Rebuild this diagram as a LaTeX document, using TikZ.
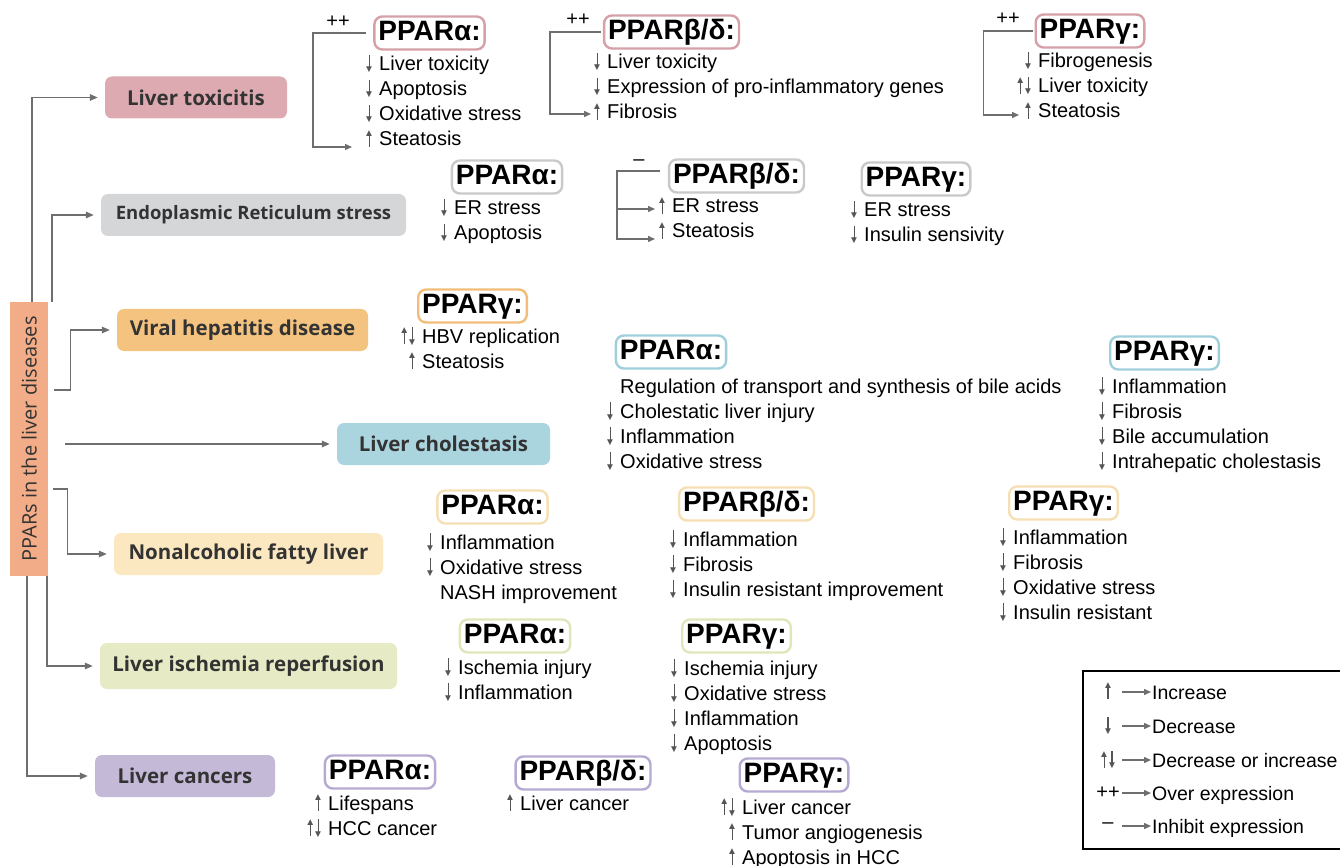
\documentclass[tikz,border=0pt]{standalone}
\usepackage{fontspec}
\setmainfont{Liberation Sans}
\newfontfamily\labelfont{Open Sans}
\usepackage{graphicx}
\usetikzlibrary{arrows.meta}

\definecolor{textdark}{HTML}{333333}
\definecolor{arrgray}{HTML}{555555}
\definecolor{linegray}{HTML}{6E6E6E}
\definecolor{barfill}{HTML}{F2AD88}
\definecolor{toxfill}{HTML}{DCAAB0}
\definecolor{toxline}{HTML}{D5A0A7}
\definecolor{erfill}{HTML}{D5D6D8}
\definecolor{erline}{HTML}{C9C9CB}
\definecolor{virfill}{HTML}{F3C37F}
\definecolor{virline}{HTML}{F2BC79}
\definecolor{cholfill}{HTML}{AAD4DE}
\definecolor{cholline}{HTML}{A0CFDB}
\definecolor{naffill}{HTML}{FBE8C0}
\definecolor{nafline}{HTML}{F6DFB4}
\definecolor{iscfill}{HTML}{E6EBC6}
\definecolor{iscline}{HTML}{DEE6BC}
\definecolor{canfill}{HTML}{C4BAD8}
\definecolor{canline}{HTML}{B6AAD2}

\newcommand{\itemfont}{\fontsize{20}{25}\selectfont}
% small up/down arrows: a thin stem with a filled head
\newcommand{\upglyph}{\textcolor{arrgray}{\ooalign{\hfil\rule[-1pt]{1.1pt}{12pt}\hfil\cr
			\hfil\raisebox{9.5pt}{\scalebox{0.5}{▲}}\hfil\cr}}}
\newcommand{\dnglyph}{\textcolor{arrgray}{\ooalign{\hfil\rule[3pt]{1.1pt}{13pt}\hfil\cr
			\hfil\raisebox{-2pt}{\scalebox{0.5}{▼}}\hfil\cr}}}
\newcommand{\incr}{\makebox[13pt][l]{\kern-2pt\upglyph}}
\newcommand{\decr}{\makebox[13pt][l]{\kern-2pt\dnglyph}}
\newcommand{\both}{\makebox[13pt][l]{\kern-2pt\llap{\upglyph\kern-2pt}\dnglyph}}
\newcommand{\noarr}{\hspace*{13pt}}

\begin{document}
\begin{tikzpicture}[x=1pt, y=-1pt,
	bar/.style={
		fill=barfill, minimum width=38pt, minimum height=274pt, inner sep=0pt,
		text=textdark, font=\labelfont\fontsize{20}{24}\selectfont
	},
	dis/.style={
		rounded corners=7pt, minimum height=42pt, inner sep=0pt,
		text=textdark, font=\labelfont\bfseries\fontsize{20.5}{24}\selectfont
	},
	ppar/.style={
		draw=#1, line width=2.4pt, rounded corners=8pt,
		inner xsep=4pt, inner ysep=4pt, text height=20pt, text depth=5pt,
		font=\bfseries\fontsize{28}{30}\selectfont
	},
	items/.style={anchor=base west, align=left, inner sep=0pt, font=\itemfont},
	sign/.style={inner sep=0pt, font=\itemfont},
	legtext/.style={
		anchor=west, inner sep=0pt, text height=14.5pt, text depth=0pt,
		font=\fontsize{19.5}{24}\selectfont
	},
	conn/.style={draw=linegray, line width=1.4pt, -{Triangle[length=8pt,width=6.5pt]}, shorten >=7pt},
	brk/.style={draw=linegray, line width=1.4pt, -{Triangle[length=7pt,width=6pt]}},
	]
	
	\useasboundingbox (0,0) rectangle (1340,866);
	
	% Root bar (left)
	\node[bar] (bar) at (29,439) {\rotatebox{90}{PPARs in the liver diseases}};
	
	% Diseases
	\node[dis, fill=toxfill,  minimum width=182pt] (tox)  at (196,97.5)  {Liver toxicitis};
	\node[dis, fill=erfill,   minimum width=305pt, font=\labelfont\bfseries\fontsize{18.5}{22}\selectfont]
	(er) at (253.5,215) {Endoplasmic Reticulum stress};
	\node[dis, fill=virfill,  minimum width=251pt] (vir)  at (242.5,330) {Viral hepatitis disease};
	\node[dis, fill=cholfill, minimum width=213pt] (chol) at (443.5,444) {Liver cholestasis};
	\node[dis, fill=naffill,  minimum width=269pt] (naf)  at (248.5,554) {Nonalcoholic fatty liver};
	\node[dis, fill=iscfill,  minimum width=297pt, minimum height=46pt] (isc) at (248.5,666) {Liver ischemia reperfusion};
	\node[dis, fill=canfill,  minimum width=180pt] (can)  at (185,776)   {Liver cancers};
	
	% Bar -> diseases
	\draw[conn] ([xshift=3pt]bar.north) |- (tox);
	\draw[conn] ([xshift=23pt]bar.north) |- (er);
	\draw[conn] ([xshift=6pt,yshift=49pt]bar.east) -- ++(16,0) |- (vir);
	\draw[conn] (bar.east |- chol) ++(17,0) -- (chol);
	\draw[conn] ([xshift=5pt,yshift=-50pt]bar.east) -- ++(14,0) |- (naf);
	\draw[conn] ([xshift=18pt]bar.south) |- (isc);
	\draw[conn] ([xshift=-2pt]bar.south) |- (can);
	
	% Liver toxicitis (lists anchored at the baseline of their last line)
	\node[ppar=toxline] (tA) at (429.5,33) {PPARα:};
	\node[ppar=toxline] (tB) at (671.5,32) {PPARβ/δ:};
	\node[ppar=toxline] (tG) at (1090,31)  {PPARγ:};
	\node[items] (tAi) at (366,146)  {\decr Liver toxicity\\\decr Apoptosis\\\decr Oxidative stress\\\incr Steatosis};
	\node[items] (tBi) at (594,119)  {\decr Liver toxicity\\\decr Expression of pro-inflammatory genes\\\incr Fibrosis};
	\node[items] (tGi) at (1025,118) {\decr Fibrogenesis\\\both Liver toxicity\\\incr Steatosis};
	\node[sign] (tAp) at (338,22)  {++};
	\node[sign] (tBp) at (578,20)  {++};
	\node[sign] (tGp) at (1008,19) {++};
	\coordinate (tAend) at (352,147);
	\coordinate (tBend) at (591,114);
	\coordinate (tGend) at (1019,115);
	\draw[brk] ([xshift=-7pt]tA.west) -- ++(-53,0) |- (tAend);
	\draw[brk] ([xshift=-2pt]tB.west) -- ++(-51,0) |- (tBend);
	\draw[brk] ([xshift=-2pt]tG.west) -- ++(-49,0) |- (tGend);
	
	% ER stress
	\node[ppar=erline] (eA) at (507,177)   {PPARα:};
	\node[ppar=erline] (eB) at (736.5,176) {PPARβ/δ:};
	\node[ppar=erline] (eG) at (916,179)   {PPARγ:};
	\node[items] (eAi) at (441,240) {\decr ER stress\\\decr Apoptosis};
	\node[items] (eBi) at (659,238) {\incr ER stress\\\incr Steatosis};
	\node[items] (eGi) at (851,242) {\decr ER stress\\\decr Insulin sensivity};
	\node[sign] (eBm) at (639,163) {–};
	\coordinate (eBfork) at (617,209);
	\coordinate (eBend1) at (655,209);
	\coordinate (eBend2) at (655,239);
	\draw[brk] ([xshift=-8pt,yshift=5pt]eB.west) -- ++(-43,0) |- (eBend2);
	\draw[brk] (eBfork) -- (eBend1);
	
	% Viral hepatitis
	\node[ppar=virline] (vG) at (472.5,306) {PPARγ:};
	\node[items] (vGi) at (409,368) {\both HBV replication\\\incr Steatosis};
	
	% Cholestasis
	\node[ppar=cholline] (cA) at (671,352)    {PPARα:};
	\node[ppar=cholline] (cG) at (1164.5,353) {PPARγ:};
	\node[items] (cAi) at (607,468)  {\noarr Regulation of transport and synthesis of bile acids\\\decr Cholestatic liver injury\\\decr Inflammation\\\decr Oxidative stress};
	\node[items] (cGi) at (1099,468) {\decr Inflammation\\\decr Fibrosis\\\decr Bile accumulation\\\decr Intrahepatic cholestasis};
	
	% Nonalcoholic fatty liver
	\node[ppar=nafline] (nA) at (492.5,507)  {PPARα:};
	\node[ppar=nafline] (nB) at (746.5,504)  {PPARβ/δ:};
	\node[ppar=nafline] (nG) at (1063.5,503) {PPARγ:};
	\node[items] (nAi) at (427,599)  {\decr Inflammation\\\decr Oxidative stress\\\noarr NASH improvement};
	\node[items] (nBi) at (670,596)  {\decr Inflammation\\\decr Fibrosis\\\decr Insulin resistant improvement};
	\node[items] (nGi) at (1000,619) {\decr Inflammation\\\decr Fibrosis\\\decr Oxidative stress\\\decr Insulin resistant};
	
	% Ischemia reperfusion
	\node[ppar=iscline] (iA) at (515,636)   {PPARα:};
	\node[ppar=iscline] (iG) at (736.5,636) {PPARγ:};
	\node[items] (iAi) at (445,699) {\decr Ischemia injury\\\decr Inflammation};
	\node[items] (iGi) at (671,750) {\decr Ischemia injury\\\decr Oxidative stress\\\decr Inflammation\\\decr Apoptosis};
	
	% Cancers
	\node[ppar=canline] (kA) at (380,772) {PPARα:};
	\node[ppar=canline] (kB) at (583,773) {PPARβ/δ:};
	\node[ppar=canline] (kG) at (794,775) {PPARγ:};
	\node[items] (kAi) at (315,835) {\incr Lifespans\\\both HCC cancer};
	\node[items] (kBi) at (507,810) {\incr Liver cancer};
	\node[items] (kGi) at (729,864) {\both Liver cancer\\\incr Tumor angiogenesis\\\incr Apoptosis in HCC};
	
	% Legend
	\node[draw=black, line width=2pt, minimum width=260pt, minimum height=178pt, inner sep=0pt, anchor=north west]
	(legend) at (1082,670) {};
	\node[sign, minimum width=28pt] (s1) at (1108,692) {\upglyph};
	\node[sign, minimum width=28pt] (s2) at (1108,726) {\dnglyph};
	\node[sign, minimum width=28pt] (s3) at (1108,760) {\upglyph\kern-2pt\dnglyph};
	\node[sign, minimum width=28pt] (s4) at (1108,793) {++};
	\node[sign, minimum width=28pt] (s5) at (1108,826) {–};
	\node[legtext] (l1) at (1152,692) {Increase};
	\node[legtext] (l2) at (1152,726) {Decrease};
	\node[legtext] (l3) at (1152,760) {Decrease or increase};
	\node[legtext] (l4) at (1152,793) {Over expression};
	\node[legtext] (l5) at (1152,826) {Inhibit expression};
	\foreach \i in {1,...,5}
	\draw[brk, shorten >=1pt] (s\i.east) -- (l\i.west);
	
\end{tikzpicture}
\end{document}
